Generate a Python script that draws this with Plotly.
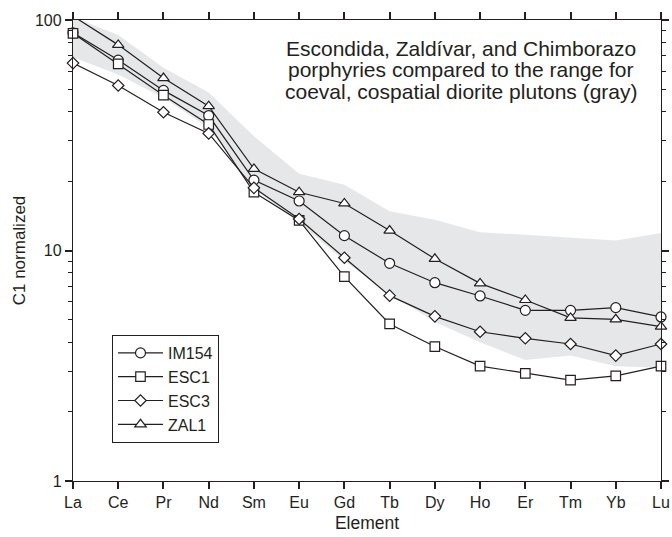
import plotly.graph_objects as go

# Chondrite (C1) normalized REE patterns
elements = ["La", "Ce", "Pr", "Nd", "Sm", "Eu", "Gd", "Tb", "Dy", "Ho", "Er", "Tm", "Yb", "Lu"]

im154 = [88, 67, 49.5, 38.5, 20.2, 16.4, 11.6, 8.8, 7.25, 6.35, 5.5, 5.5, 5.65, 5.15]
esc1 = [87.5, 64.5, 47.2, 35.2, 17.9, 13.5, 7.7, 4.8, 3.83, 3.15, 2.93, 2.74, 2.86, 3.15]
esc3 = [65, 52, 39.8, 32.2, 18.7, 13.7, 9.3, 6.37, 5.18, 4.44, 4.16, 3.93, 3.5, 3.93]
zal1 = [104, 78, 56, 42.3, 22.6, 17.9, 16.0, 12.2, 9.2, 7.2, 6.1, 5.1, 5.03, 4.67]

# Range of coeval, cospatial diorite plutons
diorite_upper = [103, 86, 62, 48.5, 31.3, 21.5, 19.3, 14.8, 13.6, 12.0, 11.7, 11.4, 11.05, 11.9]
diorite_lower = [69, 58, 46, 34, 18.5, 13.2, 9.0, 6.5, 4.9, 4.0, 3.35, 3.5, 3.15, 3.1]

y_ticks = [1, 10, 100]
y_max = 100

note_lines = [
    "Escondida, Zaldívar, and Chimborazo",
    "porphyries compared to the range for",
    "coeval, cospatial diorite plutons (gray)",
]

INK = "#231f20"
GRAY = "#e6e7e8"
FONT = "Liberation Sans, Arial, sans-serif"

fig = go.Figure()

# gray diorite envelope
fig.add_trace(go.Scatter(x=elements, y=diorite_lower, mode="lines",
                         line=dict(width=0, color=GRAY), showlegend=False,
                         hoverinfo="skip", cliponaxis=True))
fig.add_trace(go.Scatter(x=elements, y=diorite_upper, mode="lines",
                         line=dict(width=0, color=GRAY), fill="tonexty",
                         fillcolor=GRAY, showlegend=False, hoverinfo="skip",
                         cliponaxis=True))

series = [
    ("IM154", im154, "circle", 10),
    ("ESC1", esc1, "square", 9.5),
    ("ESC3", esc3, "diamond", 8.8),
    ("ZAL1", zal1, "triangle-up", 10),
]

for name, vals, sym, size in series:
    # points above the axis ceiling keep their line but show no marker
    shown = [i for i, v in enumerate(vals) if v <= y_max]
    fig.add_trace(go.Scatter(
        x=elements, y=vals, name=name, mode="lines+markers",
        line=dict(color=INK, width=1.2),
        marker=dict(symbol=sym, size=size, color="white",
                    line=dict(color=INK, width=1.2)),
        selectedpoints=shown,
        selected=dict(marker=dict(opacity=1)),
        unselected=dict(marker=dict(opacity=0)),
        cliponaxis=False,
    ))

for i, txt in enumerate(note_lines):
    fig.add_annotation(
        x=0.6607, y=(481 - (48 + 21.7 * i)) / 461, xref="paper", yref="paper",
        text=txt, showarrow=False, xanchor="center", yanchor="middle",
        font=dict(family=FONT, size=21, color=INK),
    )

fig.update_xaxes(
    type="category", range=[0, len(elements) - 1], automargin=False,
    showline=True, linecolor=INK, linewidth=1.3, mirror="ticks",
    ticks="outside", ticklen=7, tickwidth=1.5, tickcolor=INK,
    showgrid=False, zeroline=False,
    tickfont=dict(family=FONT, size=16, color=INK),
    title=dict(text="Element", font=dict(family=FONT, size=17.5, color=INK), standoff=6),
)
fig.update_yaxes(
    type="log", range=[0, 2], tickvals=y_ticks, ticktext=[str(v) for v in y_ticks],
    automargin=False,
    showline=True, linecolor=INK, linewidth=1.3, mirror="ticks",
    ticks="outside", ticklen=7, tickwidth=1.5, tickcolor=INK,
    minor=dict(ticks="outside", ticklen=4, tickwidth=1.2, tickcolor=INK, dtick="D1"),
    showgrid=False, zeroline=False,
    tickfont=dict(family=FONT, size=16, color=INK),
    title=dict(text="C1 normalized", font=dict(family=FONT, size=17, color=INK), standoff=4),
)

fig.update_layout(
    width=672, height=537,
    margin=dict(l=73, r=11, t=20, b=56),
    plot_bgcolor="white", paper_bgcolor="white",
    font=dict(family=FONT, color=INK),
    legend=dict(x=(112 - 73) / 588, y=(481 - 335) / 461, xanchor="left", yanchor="top",
                bordercolor=INK, borderwidth=1, bgcolor="white",
                font=dict(family=FONT, size=16, color=INK),
                itemwidth=45, tracegroupgap=0, traceorder="normal"),
)

fig.write_html("out.html")
